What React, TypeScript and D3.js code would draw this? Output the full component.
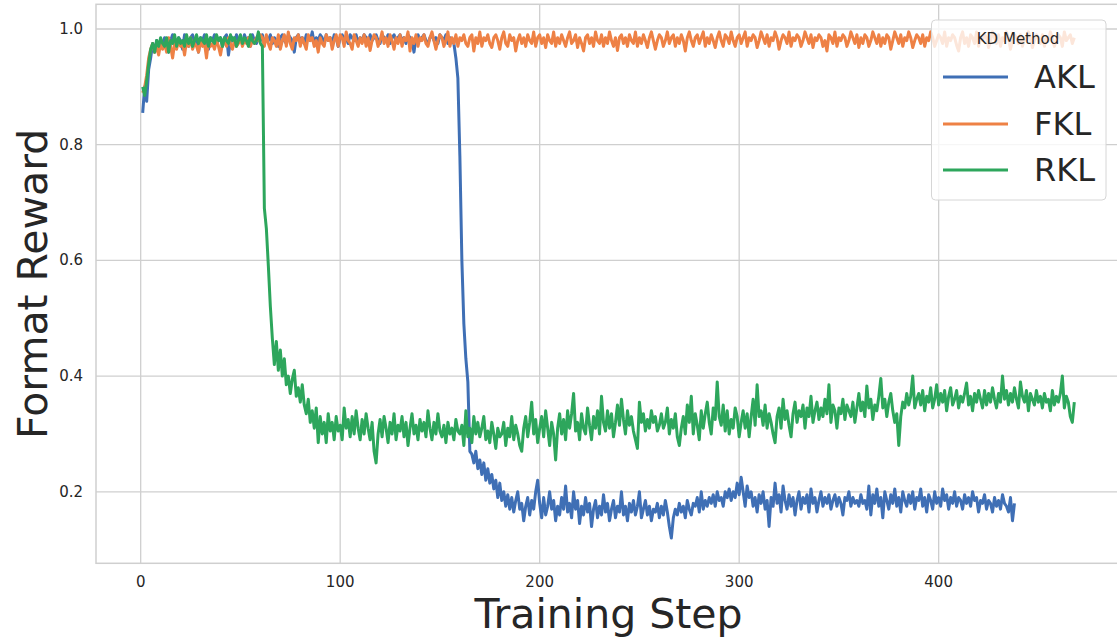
import React from "react";
import * as d3 from "d3";

// Format reward per training step (step 1 = first value)
const aklValues = [
  0.855, 0.9, 0.875, 0.93, 0.95, 0.975, 0.96, 0.98, 0.965, 0.975,
  0.97, 0.985, 0.975, 0.96, 0.98, 0.99, 0.97, 0.975, 0.985, 0.98,
  0.965, 0.99, 0.98, 0.97, 0.985, 0.99, 0.975, 0.98, 0.96, 0.985,
  0.98, 0.99, 0.975, 0.965, 0.985, 0.98, 0.99, 0.975, 0.98, 0.985,
  0.97, 0.985, 0.99, 0.955, 0.98, 0.985, 0.975, 0.99, 0.98, 0.985,
  0.975, 0.99, 0.98, 0.985, 0.97, 0.99, 0.98, 0.975, 0.985, 0.98,
  0.99, 0.975, 0.985, 0.98, 0.99, 0.975, 0.985, 0.98, 0.97, 0.985,
  0.99, 0.98, 0.975, 0.99, 0.985, 0.98, 0.96, 0.985, 0.99, 0.98,
  0.985, 0.975, 0.99, 0.985, 0.98, 0.995, 0.975, 0.985, 0.98, 0.99,
  0.985, 0.975, 0.99, 0.98, 0.985, 0.975, 0.99, 0.985, 0.97, 0.985,
  0.99, 0.98, 0.985, 0.975, 0.99, 0.985, 0.98, 0.99, 0.975, 0.985,
  0.98, 0.99, 0.985, 0.975, 0.99, 0.98, 0.985, 0.99, 0.98, 0.975,
  0.99, 0.985, 0.98, 0.99, 0.975, 0.985, 0.99, 0.98, 0.985, 0.99,
  0.98, 0.985, 0.975, 0.99, 0.985, 0.98, 0.96, 0.985, 0.99, 0.98,
  0.985, 0.99, 0.98, 0.975, 0.985, 0.99, 0.98, 0.985, 0.975, 0.99,
  0.985, 0.98, 0.99, 0.975, 0.985, 0.98, 0.975, 0.95, 0.915, 0.78,
  0.6, 0.49, 0.43, 0.39, 0.27,
  0.265, 0.25, 0.27, 0.24, 0.255, 0.23, 0.25, 0.22, 0.24, 0.215,
  0.23, 0.205, 0.22, 0.19, 0.215, 0.185, 0.2, 0.175, 0.195, 0.17,
  0.19, 0.165, 0.185, 0.2, 0.17, 0.18, 0.15, 0.175, 0.19, 0.16,
  0.185, 0.17, 0.2, 0.22, 0.18, 0.155, 0.19, 0.16, 0.175, 0.2,
  0.17, 0.185, 0.15, 0.175, 0.16, 0.19, 0.17, 0.21, 0.165, 0.18,
  0.155, 0.2, 0.17, 0.185, 0.145, 0.175, 0.16, 0.19, 0.165, 0.18,
  0.14, 0.17, 0.185, 0.155, 0.175, 0.16, 0.195, 0.165, 0.18, 0.15,
  0.17, 0.185, 0.155, 0.175, 0.165, 0.2, 0.16, 0.175, 0.15, 0.18,
  0.165, 0.185, 0.16, 0.175, 0.2, 0.155, 0.17, 0.185, 0.16, 0.175,
  0.15, 0.17, 0.165, 0.18, 0.155, 0.175, 0.16, 0.185, 0.165, 0.14,
  0.12, 0.155, 0.17, 0.16, 0.18, 0.165, 0.175, 0.155, 0.185, 0.17,
  0.16, 0.18, 0.175, 0.19, 0.165, 0.2, 0.17, 0.185, 0.175, 0.19,
  0.18, 0.195, 0.175, 0.2, 0.185, 0.19, 0.175, 0.2, 0.19, 0.205,
  0.185, 0.2, 0.19, 0.215, 0.195, 0.225, 0.2, 0.175, 0.21, 0.19,
  0.2, 0.175, 0.19, 0.165, 0.195, 0.18, 0.2, 0.17, 0.185, 0.14,
  0.19, 0.175, 0.215, 0.18, 0.195, 0.165, 0.21, 0.185, 0.17, 0.195,
  0.175, 0.19, 0.16, 0.185, 0.2, 0.17, 0.19, 0.18, 0.195, 0.165,
  0.205, 0.18, 0.19, 0.165, 0.185, 0.2, 0.175, 0.19, 0.18, 0.195,
  0.17, 0.185, 0.195, 0.175, 0.19, 0.18, 0.16, 0.19, 0.185, 0.2,
  0.175, 0.19, 0.18, 0.185, 0.175, 0.195, 0.18, 0.185, 0.17, 0.21,
  0.16, 0.195, 0.18, 0.205, 0.175, 0.19, 0.155, 0.2, 0.185, 0.17,
  0.195, 0.18, 0.205, 0.175, 0.19, 0.165, 0.2, 0.185, 0.175, 0.195,
  0.18, 0.2, 0.17, 0.19, 0.185, 0.205, 0.175, 0.19, 0.165, 0.195,
  0.185, 0.17, 0.2, 0.18, 0.19, 0.175, 0.205, 0.185, 0.195, 0.17,
  0.19, 0.18, 0.2, 0.175, 0.19, 0.185, 0.17, 0.195, 0.18, 0.19,
  0.175, 0.2, 0.185, 0.19, 0.165, 0.185, 0.18, 0.195, 0.17, 0.185,
  0.18, 0.165, 0.19, 0.175, 0.185, 0.17, 0.195, 0.18, 0.175, 0.165,
  0.19, 0.15, 0.18,
];

const fklValues = [
  0.89, 0.9, 0.92, 0.95, 0.965, 0.975, 0.96, 0.97, 0.955, 0.975,
  0.965, 0.975, 0.96, 0.985, 0.97, 0.95, 0.975, 0.965, 0.98, 0.97,
  0.975, 0.955, 0.98, 0.97, 0.985, 0.965, 0.975, 0.97, 0.96, 0.98,
  0.97, 0.975, 0.95, 0.98, 0.97, 0.975, 0.965, 0.98, 0.97, 0.955,
  0.975, 0.98, 0.97, 0.985, 0.975, 0.965, 0.98, 0.97, 0.975, 0.985,
  0.97, 0.98, 0.975, 0.985, 0.97, 0.98, 0.975, 0.985, 0.98, 0.99,
  0.985, 0.97, 0.99, 0.975, 0.965, 0.985, 0.98, 0.97, 0.99, 0.965,
  0.98, 0.99, 0.97, 0.995, 0.975, 0.965, 0.985, 0.98, 0.99, 0.97,
  0.985, 0.975, 0.965, 0.99, 0.98, 0.985, 0.97, 0.98, 0.96, 0.985,
  0.975, 0.97, 0.99, 0.98, 0.985, 0.965, 0.98, 0.99, 0.97, 0.99,
  0.985, 0.97, 0.995, 0.98, 0.975, 0.965, 0.99, 0.98, 0.97, 0.985,
  0.975, 0.99, 0.97, 0.985, 0.963, 0.98, 0.99, 0.985, 0.97, 0.98,
  0.995, 0.975, 0.985, 0.97, 0.99, 0.98, 0.965, 0.985, 0.975, 0.99,
  0.97, 0.985, 0.98, 0.995, 0.962, 0.985, 0.975, 0.99, 0.97, 0.985,
  0.98, 0.99, 0.975, 0.97, 0.985, 0.995, 0.98, 0.965, 0.98, 0.99,
  0.985, 0.97, 0.98, 0.995, 0.97, 0.985, 0.975, 0.99, 0.97, 0.985,
  0.98, 0.99, 0.975, 0.97, 0.985, 0.99, 0.962, 0.985, 0.975, 0.995,
  0.97, 0.985, 0.98, 0.99, 0.975, 0.968, 0.985, 0.99, 0.98, 0.965,
  0.985, 0.995, 0.975, 0.97, 0.99, 0.98, 0.985, 0.962, 0.98, 0.99,
  0.975, 0.985, 0.97, 0.99, 0.98, 0.975, 0.995, 0.97, 0.985, 0.99,
  0.975, 0.985, 0.968, 0.99, 0.98, 0.975, 0.995, 0.97, 0.985, 0.975,
  0.99, 0.98, 0.97, 0.985, 0.995, 0.975, 0.98, 0.99, 0.968, 0.985,
  0.975, 0.962, 0.985, 0.99, 0.975, 0.985, 0.97, 0.995, 0.98, 0.975,
  0.99, 0.97, 0.985, 0.975, 0.995, 0.98, 0.97, 0.985, 0.963, 0.985,
  0.99, 0.975, 0.985, 0.97, 0.99, 0.98, 0.975, 0.995, 0.97, 0.985,
  0.975, 0.99, 0.98, 0.968, 0.985, 0.995, 0.98, 0.965, 0.98, 0.99,
  0.985, 0.97, 0.98, 0.995, 0.975, 0.985, 0.99, 0.97, 0.985, 0.975,
  0.99, 0.98, 0.962, 0.985, 0.995, 0.98, 0.97, 0.985, 0.99, 0.975,
  0.985, 0.995, 0.97, 0.985, 0.975, 0.99, 0.98, 0.968, 0.985, 0.995,
  0.98, 0.97, 0.99, 0.985, 0.975, 0.995, 0.98, 0.97, 0.985, 0.99,
  0.975, 0.985, 0.995, 0.97, 0.985, 0.98, 0.99, 0.985, 0.968, 0.98,
  0.995, 0.985, 0.975, 0.99, 0.97, 0.985, 0.98, 0.995, 0.985, 0.965,
  0.98, 0.99, 0.985, 0.975, 0.995, 0.97, 0.985, 0.98, 0.99, 0.985,
  0.97, 0.98, 0.995, 0.985, 0.975, 0.99, 0.968, 0.985, 0.98, 0.99,
  0.985, 0.97, 0.98, 0.962, 0.99, 0.985, 0.975, 0.995, 0.97, 0.985,
  0.98, 0.99, 0.985, 0.97, 0.98, 0.995, 0.985, 0.975, 0.99, 0.968,
  0.985, 0.975, 0.99, 0.985, 0.97, 0.98, 0.995, 0.985, 0.975, 0.99,
  0.97, 0.985, 0.975, 0.99, 0.985, 0.965, 0.98, 0.995, 0.985, 0.975,
  0.99, 0.97, 0.985, 0.98, 0.995, 0.985, 0.968, 0.98, 0.99, 0.985,
  0.975, 0.99, 0.97, 0.985, 0.98, 0.995, 0.985, 0.97, 0.98, 0.99,
  0.985, 0.975, 0.995, 0.97, 0.985, 0.98, 0.99, 0.985, 0.972, 0.962,
  0.985, 0.995, 0.975, 0.985, 0.97, 0.99, 0.985, 0.975, 0.995, 0.97,
  0.985, 0.98, 0.99, 0.985, 0.968, 0.98, 0.995, 0.985, 0.975, 0.99,
  0.97, 0.985, 0.98, 0.995, 0.985, 0.965, 0.98, 0.99, 0.985, 0.975,
  0.99, 0.97, 0.985, 0.98, 0.995, 0.985, 0.968, 0.98, 0.99, 0.985,
  0.975, 0.99, 0.97, 0.985, 0.98, 0.995, 0.985, 0.97, 0.98, 0.99,
  0.985, 0.97, 0.995, 0.98, 0.985, 0.99, 0.975, 0.985,
];

const rklValues = [
  0.9, 0.885, 0.91, 0.94, 0.965, 0.975, 0.96, 0.98, 0.97, 0.985,
  0.975, 0.97, 0.985, 0.96, 0.98, 0.975, 0.99, 0.97, 0.985, 0.975,
  0.98, 0.97, 0.99, 0.975, 0.985, 0.97, 0.98, 0.99, 0.975, 0.985,
  0.98, 0.975, 0.99, 0.97, 0.985, 0.98, 0.975, 0.99, 0.98, 0.985,
  0.97, 0.985, 0.98, 0.975, 0.99, 0.98, 0.985, 0.97, 0.98, 0.99,
  0.975, 0.985, 0.98, 0.97, 0.99, 0.98, 0.975, 0.98, 0.995, 0.975,
  0.97, 0.69, 0.655, 0.59, 0.52, 0.465,
  0.42, 0.46, 0.41, 0.445, 0.4, 0.43, 0.385, 0.4, 0.37, 0.395,
  0.41, 0.365, 0.38, 0.355, 0.385, 0.35, 0.335, 0.36, 0.32, 0.34,
  0.31, 0.345, 0.285, 0.33, 0.3, 0.32, 0.285, 0.335, 0.305, 0.32,
  0.29, 0.33, 0.305, 0.315,
  0.29, 0.345, 0.31, 0.325, 0.295, 0.33, 0.3, 0.34, 0.31, 0.29,
  0.325, 0.3, 0.335, 0.31, 0.29, 0.32, 0.27, 0.25, 0.3, 0.325,
  0.295, 0.33, 0.31, 0.285, 0.32, 0.3, 0.335, 0.29, 0.315, 0.305,
  0.33, 0.295, 0.32, 0.28, 0.31, 0.335, 0.3, 0.315, 0.29, 0.325,
  0.305, 0.32, 0.295, 0.34, 0.31, 0.29, 0.32, 0.3, 0.335, 0.305,
  0.295, 0.315, 0.285, 0.32, 0.3, 0.31, 0.29, 0.325, 0.305, 0.3,
  0.315, 0.28, 0.34, 0.295, 0.31, 0.285, 0.33, 0.3, 0.32, 0.295,
  0.31, 0.33, 0.29, 0.305, 0.285, 0.32, 0.3, 0.275, 0.31, 0.295,
  0.3, 0.32, 0.28, 0.31, 0.295, 0.33, 0.29, 0.315, 0.3, 0.28,
  0.27, 0.31, 0.33, 0.295, 0.32, 0.355, 0.3, 0.325, 0.285, 0.31,
  0.33, 0.295, 0.34, 0.31, 0.28, 0.32, 0.3, 0.255, 0.31, 0.335,
  0.3, 0.325, 0.29, 0.34, 0.31, 0.335, 0.37, 0.305, 0.32, 0.29,
  0.335, 0.31, 0.3, 0.345, 0.315, 0.29, 0.33, 0.31, 0.34, 0.3,
  0.365, 0.32, 0.305, 0.34, 0.31, 0.335, 0.295, 0.32, 0.35, 0.315,
  0.36, 0.325, 0.3, 0.34, 0.315, 0.33, 0.305, 0.29, 0.275, 0.355,
  0.32, 0.335, 0.305, 0.325, 0.31, 0.34, 0.32, 0.33, 0.305, 0.315,
  0.335, 0.31, 0.32, 0.345, 0.3, 0.325, 0.31, 0.335, 0.295, 0.28,
  0.31, 0.33, 0.3, 0.35, 0.32, 0.365, 0.3, 0.335, 0.315, 0.29,
  0.34, 0.31, 0.335, 0.355, 0.32, 0.3, 0.345, 0.325, 0.39, 0.33,
  0.315, 0.35, 0.305, 0.34, 0.3, 0.325, 0.31, 0.345, 0.33, 0.295,
  0.32, 0.34, 0.31, 0.335, 0.295, 0.33, 0.36, 0.315, 0.385, 0.33,
  0.34, 0.315, 0.35, 0.31, 0.335, 0.32, 0.3, 0.285, 0.33, 0.345,
  0.31, 0.36, 0.325, 0.34, 0.315, 0.295, 0.335, 0.355, 0.32, 0.34,
  0.33, 0.35, 0.31, 0.345, 0.33, 0.365, 0.32, 0.34, 0.355, 0.325,
  0.345, 0.33, 0.36, 0.335, 0.385, 0.32, 0.35, 0.34, 0.31, 0.345,
  0.335, 0.36, 0.325, 0.35, 0.34, 0.33, 0.355, 0.32, 0.345, 0.37,
  0.34, 0.355, 0.33, 0.383, 0.345, 0.36, 0.325, 0.35, 0.34, 0.365,
  0.396, 0.345, 0.36, 0.33, 0.355, 0.37, 0.34, 0.32, 0.335, 0.28,
  0.33, 0.355, 0.345, 0.37, 0.35, 0.365, 0.4, 0.345, 0.36, 0.37,
  0.35, 0.375, 0.34, 0.365, 0.355, 0.38, 0.345, 0.36, 0.385, 0.35,
  0.37, 0.355, 0.375, 0.34, 0.365, 0.38, 0.35, 0.36, 0.375, 0.345,
  0.365, 0.355, 0.37, 0.388, 0.35, 0.365, 0.34, 0.37, 0.355, 0.375,
  0.36, 0.345, 0.375, 0.35, 0.37, 0.355, 0.38, 0.36, 0.345, 0.37,
  0.355, 0.4, 0.36, 0.375, 0.35, 0.37, 0.355, 0.38, 0.36, 0.345,
  0.39, 0.365, 0.355, 0.375, 0.34, 0.37, 0.36, 0.35, 0.375, 0.355,
  0.365, 0.345, 0.37, 0.355, 0.36, 0.34, 0.375, 0.35, 0.365, 0.355,
  0.37, 0.4, 0.345, 0.365, 0.355, 0.33, 0.32, 0.355,
];

const seriesNames = ["AKL", "FKL", "RKL"];
const seriesColors = ["#3f6fb5", "#ee8145", "#2da65c"];
const seriesData = [aklValues, fklValues, rklValues];
const xTicks = [0, 100, 200, 300, 400];
const yTicks = [0.2, 0.4, 0.6, 0.8, 1.0];
const xDomain = [-22.4, 491.4];
const yDomain = [0.0764, 1.0427];

export default function App() {
  const W = 1117;
  const H = 638;
  const left = 96;
  const right = 1121;
  const top = 4.3;
  const bottom = 563.3;
  const font = "'DejaVu Sans', sans-serif";
  const text = "#262626";
  const grid = "#cfcfcf";

  const x = d3.scaleLinear().domain(xDomain).range([left, right]);
  const y = d3.scaleLinear().domain(yDomain).range([bottom, top]);
  const line = d3
    .line<number>()
    .x((_, i) => x(i + 1))
    .y((d) => y(d));

  const lg = { x: 931.5, y: 20, w: 174.5, h: 180 };
  const entryY = [77, 124, 170];

  return (
    <svg
      width={W}
      height={H}
      style={{ position: "absolute", left: 0, top: 0, background: "#fff" }}
      fontFamily={font}
    >
      <defs>
        <clipPath id="plotClip">
          <rect x={left} y={top} width={right - left} height={bottom - top} />
        </clipPath>
      </defs>
      <rect x={0} y={0} width={W} height={H} fill="#fff" />
      {xTicks.map((t) => (
        <line key={"gx" + t} x1={x(t)} x2={x(t)} y1={top} y2={bottom} stroke={grid} strokeWidth={1.3} />
      ))}
      {yTicks.map((t) => (
        <line key={"gy" + t} x1={left} x2={right} y1={y(t)} y2={y(t)} stroke={grid} strokeWidth={1.3} />
      ))}
      <rect x={left} y={top} width={right - left} height={bottom - top} fill="none" stroke={grid} strokeWidth={1.5} />
      <g clipPath="url(#plotClip)">
        {seriesData.map((vals, k) => (
          <path
            key={seriesNames[k]}
            d={line(vals) || ""}
            fill="none"
            stroke={seriesColors[k]}
            strokeWidth={3}
            strokeLinejoin="round"
            strokeLinecap="butt"
          />
        ))}
      </g>
      {xTicks.map((t) => (
        <text key={"tx" + t} x={x(t)} y={582} fontSize={15} fill={text} textAnchor="middle" dominantBaseline="central">
          {t}
        </text>
      ))}
      {yTicks.map((t) => (
        <text key={"ty" + t} x={83} y={y(t)} fontSize={15} fill={text} textAnchor="end" dominantBaseline="central">
          {t.toFixed(1)}
        </text>
      ))}
      <text x={(left + right) / 2} y={628} fontSize={41} fill={text} textAnchor="middle">
        Training Step
      </text>
      <text
        transform={`translate(47, ${(top + bottom) / 2}) rotate(-90)`}
        fontSize={41}
        fill={text}
        textAnchor="middle"
      >
        Format Reward
      </text>
      <rect
        x={lg.x}
        y={lg.y}
        width={lg.w}
        height={lg.h}
        rx={4}
        ry={4}
        fill="#fff"
        fillOpacity={0.8}
        stroke="#d6d6d6"
        strokeWidth={1}
      />
      <text x={1018} y={39} fontSize={15} fill={text} textAnchor="middle" dominantBaseline="central">
        KD Method
      </text>
      {seriesNames.map((name, k) => (
        <g key={"lg" + name}>
          <line x1={943} x2={1008} y1={entryY[k]} y2={entryY[k]} stroke={seriesColors[k]} strokeWidth={3} />
          <text x={1034} y={entryY[k]} fontSize={32} fill={text} dominantBaseline="central">
            {name}
          </text>
        </g>
      ))}
    </svg>
  );
}
